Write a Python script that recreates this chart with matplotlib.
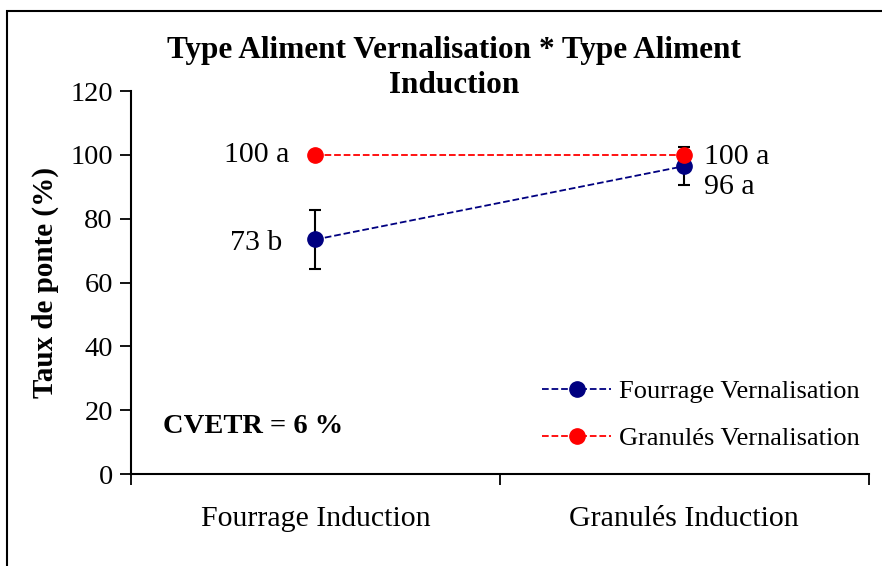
import numpy as np
import matplotlib.pyplot as plt
from matplotlib.patches import Rectangle

plt.rcParams['font.family'] = ['Liberation Serif', 'DejaVu Serif']

categories = ['Fourrage Induction', 'Granulés Induction']
fourrage_vern = [73.5, 96.5]
fourrage_err = [9.2, 6.0]
granules_vern = [100, 100]
labels_fourrage = ['73 b', '96 a']
labels_granules = ['100 a', '100 a']

x = np.array([0.5, 1.5])

fig = plt.figure(figsize=(8.82, 5.66), dpi=100)
ax = fig.add_axes([0.1485, 0.1625, 0.8365, 0.6765])

# outer frame of the figure
fig.patches.append(Rectangle((0.008, -0.05), 1.2, 0.98 + 0.05, transform=fig.transFigure,
                             fill=False, edgecolor='black', linewidth=1.5, zorder=0))

ax.errorbar(x, fourrage_vern, yerr=fourrage_err, color='#000080', ecolor='black',
            elinewidth=1.5, capsize=4.5, capthick=1.5, fmt='none', zorder=2)
ax.plot(x, fourrage_vern, '--o', color='#000080', lw=1.3, markersize=11,
        label='Fourrage Vernalisation', zorder=3)
ax.plot(x, granules_vern, '--o', color='#ff0000', lw=1.3, markersize=11,
        label='Granulés Vernalisation', zorder=4)

# letters of the mean comparison
ax.text(x[0] - 0.07, granules_vern[0], labels_granules[0], ha='right', va='center', fontsize=21.5)
ax.text(x[0] - 0.09, fourrage_vern[0] - 1, labels_fourrage[0], ha='right', va='center', fontsize=21.5)
ax.text(x[1] + 0.053, granules_vern[1] - 0.5, labels_granules[1], ha='left', va='center', fontsize=21.5)
ax.text(x[1] + 0.053, fourrage_vern[1] - 6.5, labels_fourrage[1], ha='left', va='center', fontsize=21.5)

ax.text(0.087, 15, 'CVETR = 6 %', fontsize=20.5, fontweight='bold', ha='left', va='center')

ax.set_xlim(0, 2)
ax.set_ylim(0, 120)
ax.set_yticks(np.arange(0, 121, 20))
ax.set_xticks(x)
ax.set_xticklabels(categories, fontsize=21.5)
ax.set_xticks([0, 1, 2], minor=True)
ax.tick_params(axis='x', which='major', length=0, pad=23)
ax.tick_params(axis='x', which='minor', length=8, width=1.3, direction='out')
ax.tick_params(axis='y', labelsize=20.5, length=8, width=1.3, direction='out', pad=5)
for side in ['top', 'right']:
    ax.spines[side].set_visible(False)
for side in ['left', 'bottom']:
    ax.spines[side].set_linewidth(1.5)

ax.set_ylabel('Taux de ponte (%)', fontsize=21, fontweight='bold', labelpad=8)
fig.suptitle('Type Aliment Vernalisation * Type Aliment\nInduction', fontsize=22.5,
             fontweight='bold', x=0.515, y=0.937, linespacing=1.3)

ax.legend(loc='lower right', bbox_to_anchor=(1.02, 0.0), frameon=False, fontsize=19,
          handlelength=2.6, labelspacing=0.9, handletextpad=0.3)

fig.savefig('out.png', dpi=100)
